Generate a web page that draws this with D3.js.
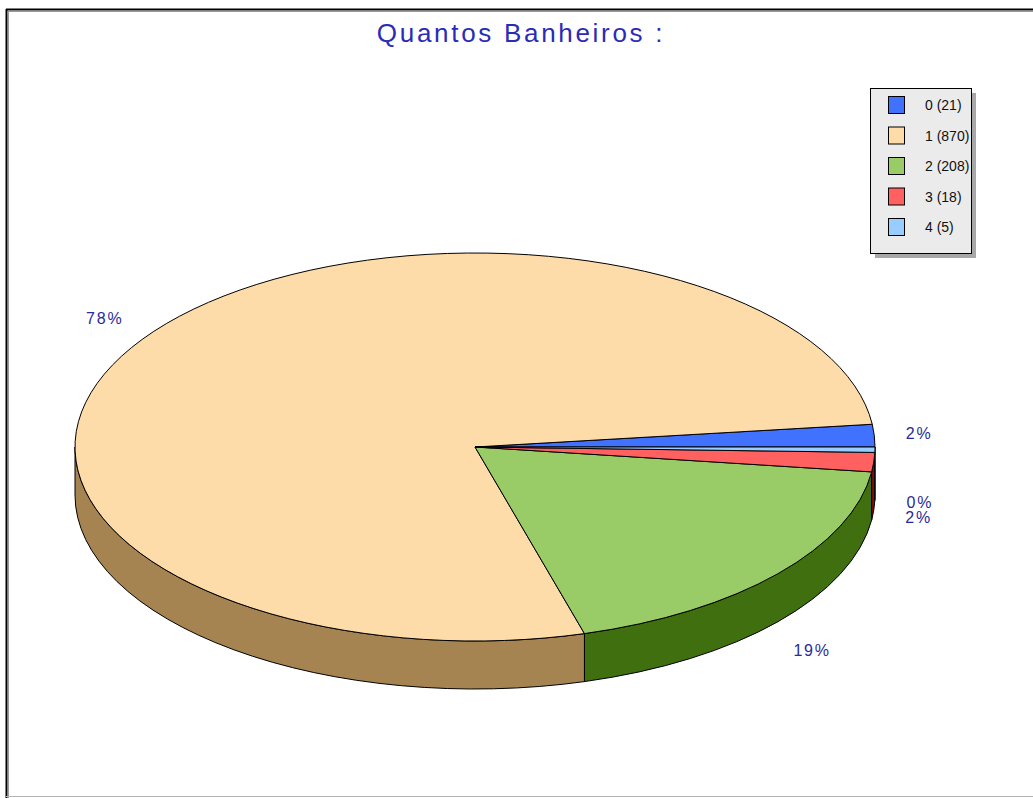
<!DOCTYPE html>
<html><head><meta charset="utf-8">
<script src="https://cdn.jsdelivr.net/npm/d3@7"></script>
<style>html,body{margin:0;padding:0;background:#fff;overflow:hidden} svg{display:block}</style>
</head><body>
<svg id="chart" width="1033" height="798"></svg>
<script>
// Data: number of bathrooms and how many records have each
const categories = ["0", "1", "2", "3", "4"];
const counts = [21, 870, 208, 18, 5];
const topColors = ["#4071ff", "#fddcaa", "#99cc66", "#ff6060", "#99ccff"];
const sideColors = ["#23409a", "#a58452", "#3f6f0f", "#8b0a0a", "#5a86b8"];
const chartTitle = "Quantos Banheiros :";

const svg = d3.select("#chart");
const W = 1033, H = 798;

// frame with inset look
svg.append("rect").attr("x", 0).attr("y", 0).attr("width", W).attr("height", H).attr("fill", "#fff");
svg.append("line").attr("x1", 6).attr("x2", W).attr("y1", 9.5).attr("y2", 9.5).attr("stroke", "#000").attr("stroke-width", 2);
svg.append("line").attr("x1", 8).attr("x2", W).attr("y1", 11.5).attr("y2", 11.5).attr("stroke", "#9a9a9a").attr("stroke-width", 1);
svg.append("line").attr("x1", 6.5).attr("x2", 6.5).attr("y1", 9).attr("y2", H).attr("stroke", "#000").attr("stroke-width", 2);
svg.append("line").attr("x1", 8.5).attr("x2", 8.5).attr("y1", 11).attr("y2", H).attr("stroke", "#9a9a9a").attr("stroke-width", 1);
svg.append("line").attr("x1", 6).attr("x2", W).attr("y1", 796.5).attr("y2", 796.5).attr("stroke", "#b4b4b4").attr("stroke-width", 1);

// title
svg.append("text")
  .attr("x", 521).attr("y", 42)
  .attr("text-anchor", "middle")
  .attr("font-family", "Liberation Sans, Arial, sans-serif")
  .attr("font-size", 26)
  .attr("letter-spacing", 2.7)
  .attr("fill", "#2b2bb8")
  .text(chartTitle);

// 3D pie geometry
const cx = 475, cy = 447, rx = 400, ry = 194, depth = 48;
const total = d3.sum(counts);
const pie = d3.pie().sort(null).startAngle(0).endAngle(2 * Math.PI);
const arcs = pie(counts);
// angles are taken counter-clockwise from the east
const topPt = a => [cx + rx * Math.cos(a), cy - ry * Math.sin(a)];
const botPt = a => { const p = topPt(a); return [p[0], p[1] + depth]; };
const fmtPct = d3.format(".0%");

const g = svg.append("g");

// outer side walls on the front half (angles between PI and 2PI)
arcs.forEach((d, i) => {
  const s = Math.max(d.startAngle, Math.PI), e = Math.min(d.endAngle, 2 * Math.PI);
  if (e <= s) return;
  const p0 = topPt(s), p1 = topPt(e), q1 = botPt(e), q0 = botPt(s);
  const path = `M${p0[0]},${p0[1]} A${rx},${ry} 0 0 0 ${p1[0]},${p1[1]} L${q1[0]},${q1[1]} A${rx},${ry} 0 0 1 ${q0[0]},${q0[1]} Z`;
  g.append("path").attr("d", path).attr("fill", sideColors[i]).attr("stroke", "#000").attr("stroke-width", 1);
});

// top faces
arcs.forEach((d, i) => {
  const p0 = topPt(d.startAngle), p1 = topPt(d.endAngle);
  const large = (d.endAngle - d.startAngle) > Math.PI ? 1 : 0;
  const path = `M${cx},${cy} L${p0[0]},${p0[1]} A${rx},${ry} 0 ${large} 0 ${p1[0]},${p1[1]} Z`;
  g.append("path").attr("d", path).attr("fill", topColors[i]).attr("stroke", "#000").attr("stroke-width", 1).attr("stroke-linejoin", "round");
});

// percentage labels
const lrx = 445, lry = 232;
arcs.forEach((d, i) => {
  const m = (d.startAngle + d.endAngle) / 2;
  const s = Math.sin(m);
  const x = cx + lrx * Math.cos(m);
  const y = cy - lry * s + (s < 0 ? depth + 4 : 0);
  svg.append("text")
    .attr("x", x).attr("y", y)
    .attr("text-anchor", "middle")
    .attr("dominant-baseline", "central")
    .attr("font-family", "Liberation Sans, Arial, sans-serif")
    .attr("font-size", 16)
    .attr("letter-spacing", 1.8)
    .attr("fill", "#2a2a9c")
    .text(fmtPct(d.value / total));
});

// legend
const lg = svg.append("g");
const LX = 870, LY = 88, LW = 101, LH = 165;
lg.append("rect").attr("x", LX + 5).attr("y", LY + 5).attr("width", LW).attr("height", LH).attr("fill", "#a8a8a8");
lg.append("rect").attr("x", LX + 0.5).attr("y", LY + 0.5).attr("width", LW).attr("height", LH).attr("fill", "#ebebeb").attr("stroke", "#000");
categories.forEach((c, i) => {
  const yc = LY + 17 + i * 30.5;
  lg.append("rect").attr("x", 888.5).attr("y", yc - 8.5).attr("width", 16).attr("height", 17)
    .attr("fill", topColors[i]).attr("stroke", "#000");
  lg.append("text").attr("x", 925).attr("y", yc)
    .attr("dominant-baseline", "central")
    .attr("font-family", "Liberation Sans, Arial, sans-serif")
    .attr("font-size", 14)
    .attr("fill", "#111")
    .text(`${c} (${counts[i]})`);
});
</script>
</body></html>
